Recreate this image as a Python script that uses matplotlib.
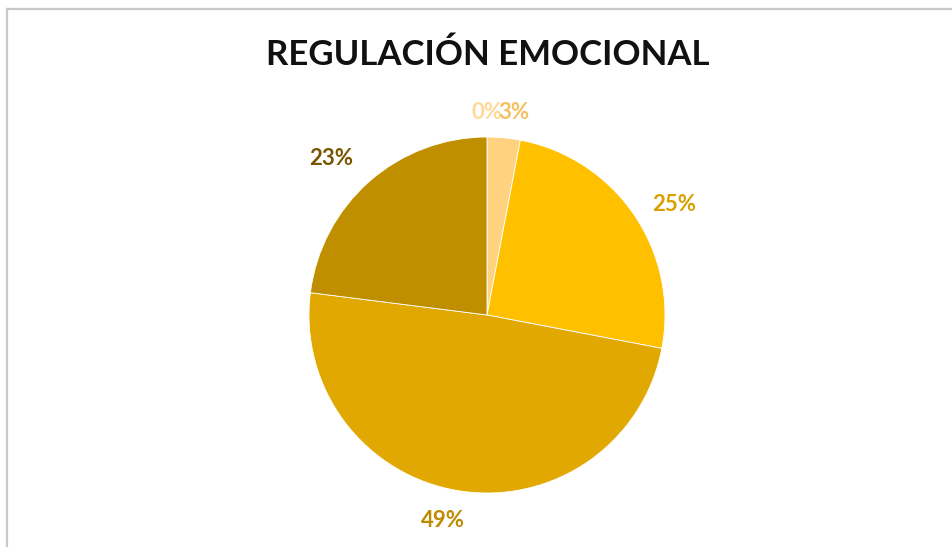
import numpy as np
import matplotlib
matplotlib.use("Agg")
import matplotlib.pyplot as plt
from matplotlib.lines import Line2D

title = "REGULACIÓN EMOCIONAL"
categories = ["Cat 1", "Cat 2", "Cat 3", "Cat 4", "Cat 5"]
values = [0, 3, 25, 49, 23]
labels = ["0%", "3%", "25%", "49%", "23%"]

slice_colors = ["#FFE4A8", "#FFD280", "#FFC000", "#E0A800", "#BF8F00"]
label_colors = ["#FFD99A", "#F5C062", "#D9A000", "#BD8A00", "#7A5500"]
# label placement (radial distance, angular nudge in degrees), Excel-like "best fit"
label_dist = [1.14, 1.15, 1.22, 1.18, 1.24]
label_nudge = [0, -2, -3.5, -3, 3.6]

W, H = 953, 547
fig = plt.figure(figsize=(W / 100, H / 100), dpi=100)
fig.patch.set_facecolor("white")

# border lines (top and left)
fig.add_artist(Line2D([6.5 / W, 6.5 / W], [0, 1 - 8.5 / H], transform=fig.transFigure,
                      color="#C8C8C8", lw=1.6))
fig.add_artist(Line2D([6.5 / W, 1], [1 - 8.5 / H, 1 - 8.5 / H], transform=fig.transFigure,
                      color="#C8C8C8", lw=1.6))

fig.text(488 / W, 1 - 65 / H, title, ha="center", va="baseline",
         fontsize=25, fontweight="bold", family="Lato", color="#111111")

cx, cy, r = 487, 315, 178
ax = fig.add_axes([(cx - r) / W, (H - cy - r) / H, 2 * r / W, 2 * r / H])
wedges, texts = ax.pie(values, labels=labels, colors=slice_colors, startangle=90,
                       counterclock=False, radius=1, labeldistance=1.16,
                       wedgeprops=dict(edgecolor="white", linewidth=0.6),
                       textprops=dict(fontsize=16, fontweight="bold", family="Lato"))
for w, t, c, d, n in zip(wedges, texts, label_colors, label_dist, label_nudge):
    ang = np.deg2rad((w.theta1 + w.theta2) / 2 + n)
    t.set_position((d * np.cos(ang), d * np.sin(ang)))
    t.set_color(c)
    t.set_ha("center")
    t.set_va("center")
ax.set_xlim(-1, 1)
ax.set_ylim(-1, 1)
ax.set_aspect("equal")
ax.axis("off")

fig.savefig("out.png", dpi=100, facecolor="white")
